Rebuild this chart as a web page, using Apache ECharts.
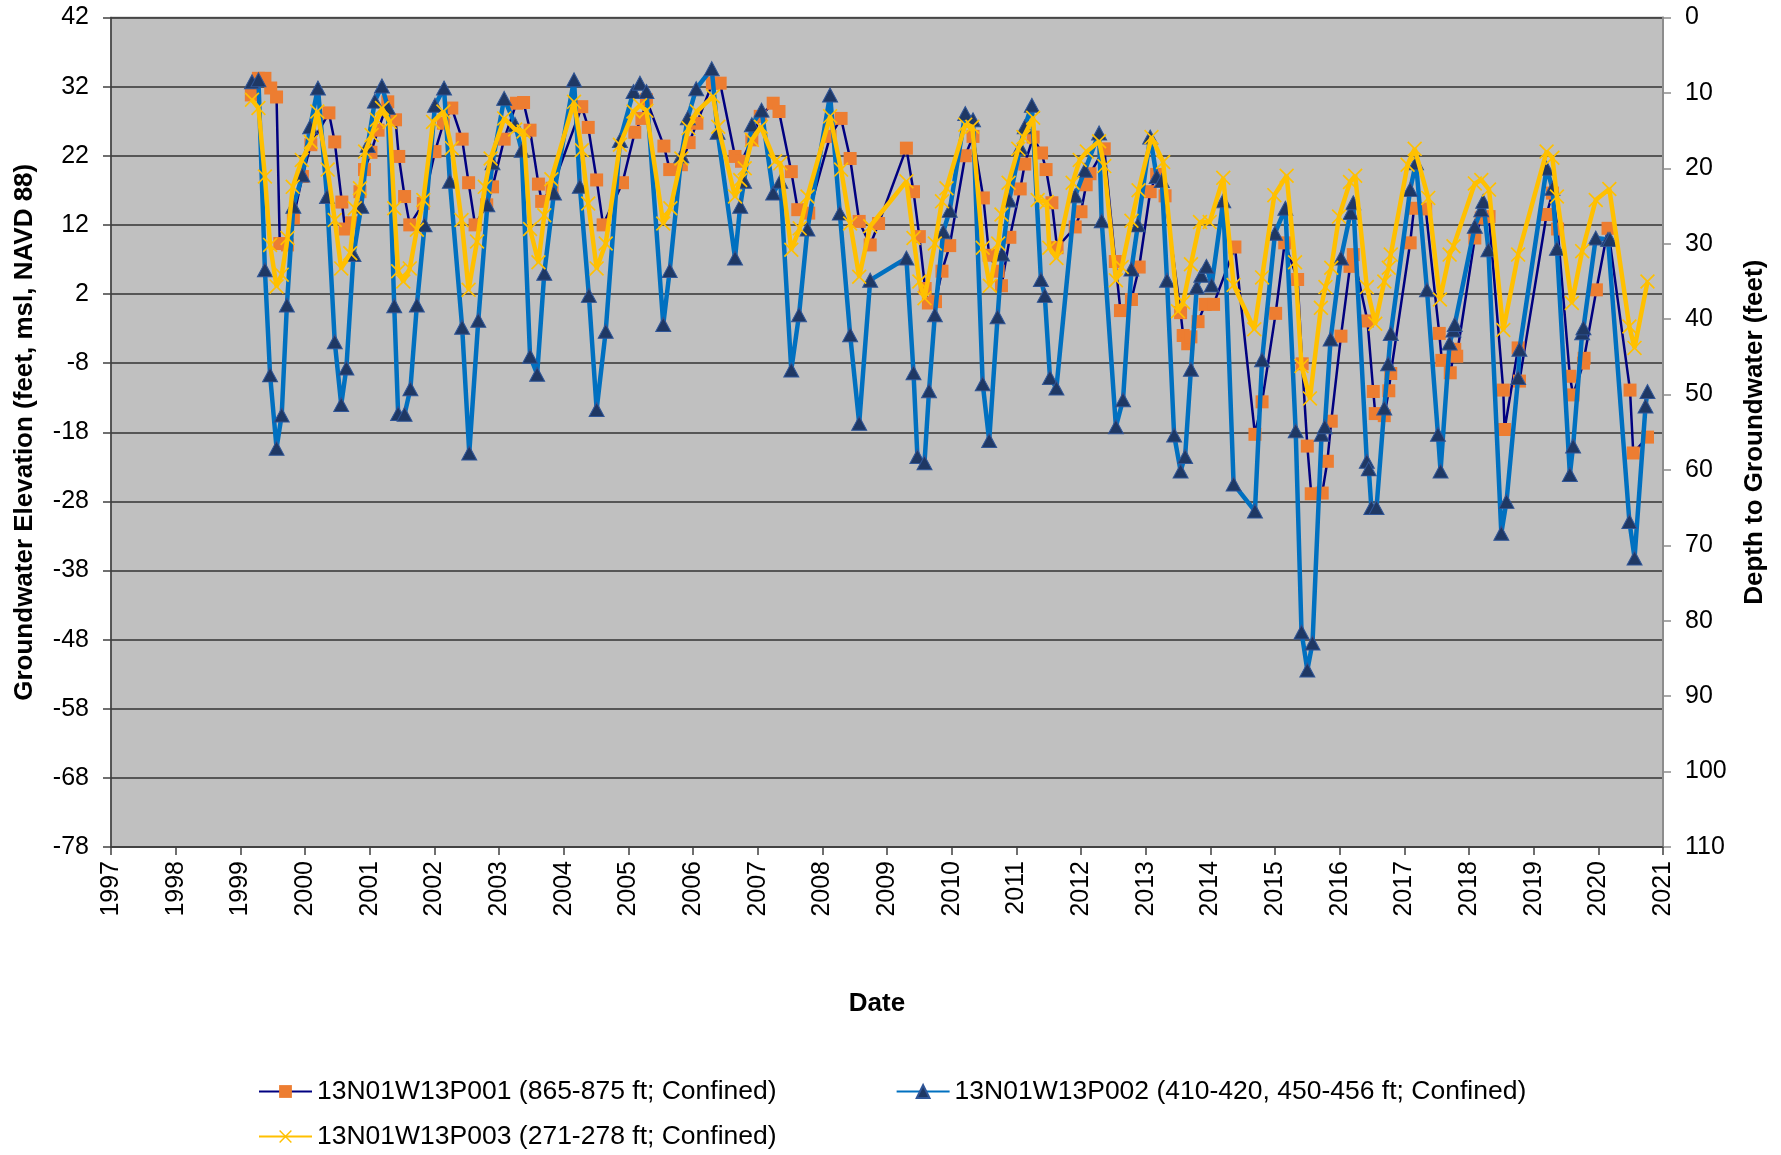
<!DOCTYPE html>
<html>
<head>
<meta charset="utf-8">
<title>13N01W13P001-003 Groundwater Elevation</title>
<script src="https://cdn.jsdelivr.net/npm/echarts@6/dist/echarts.min.js"></script>
<style>
  html, body { margin: 0; padding: 0; background: #ffffff; }
  #chart { width: 1781px; height: 1155px; }
</style>
</head>
<body>
<div id="chart"></div>
<script>
// Well names shown in the legend
const wellNames = [
  '13N01W13P001 (865-875 ft; Confined)',
  '13N01W13P002 (410-420, 450-456 ft; Confined)',
  '13N01W13P003 (271-278 ft; Confined)'
];

// Measurements as [decimal year, groundwater elevation (ft, NAVD 88)]
const p001 = [
  [1999.17, 30.8], [1999.28, 33.2], [1999.38, 33.2], [1999.47, 31.8], [1999.56, 30.5],
  [1999.61, 9.3], [1999.73, 9.1], [1999.82, 13.0], [1999.96, 19.0], [2000.09, 23.6],
  [2000.37, 28.2], [2000.46, 24.0], [2000.57, 15.3], [2000.62, 11.4], [2000.72, 12.3],
  [2000.85, 16.8], [2000.92, 20.0], [2001.02, 22.5], [2001.13, 25.7], [2001.28, 29.8],
  [2001.40, 27.2], [2001.45, 21.9], [2001.54, 16.1], [2001.62, 12.0], [2001.83, 15.1],
  [2002.01, 22.6], [2002.14, 26.7], [2002.27, 28.9], [2002.43, 24.4], [2002.53, 18.1],
  [2002.63, 12.0], [2002.81, 14.9], [2002.90, 17.5], [2003.08, 24.4], [2003.27, 29.6],
  [2003.38, 29.7], [2003.48, 25.7], [2003.61, 17.9], [2003.66, 15.4], [2003.82, 17.3],
  [2004.28, 29.1], [2004.38, 26.1], [2004.51, 18.5], [2004.61, 12.0], [2004.91, 18.1],
  [2005.10, 25.4], [2005.21, 27.4], [2005.28, 30.1], [2005.55, 23.4], [2005.64, 20.0],
  [2005.82, 20.7], [2005.94, 23.9], [2006.06, 26.7], [2006.30, 32.5], [2006.42, 32.5],
  [2006.65, 21.9], [2006.75, 21.2], [2006.91, 24.3], [2007.04, 27.7], [2007.24, 29.6],
  [2007.33, 28.4], [2007.52, 19.7], [2007.62, 14.2], [2007.79, 13.7], [2008.12, 24.8],
  [2008.29, 27.4], [2008.43, 21.6], [2008.57, 12.5], [2008.74, 9.1], [2008.87, 12.2],
  [2009.30, 23.1], [2009.41, 16.8], [2009.50, 10.3], [2009.59, 2.8], [2009.64, 0.7],
  [2009.75, 0.9], [2009.85, 5.3], [2009.97, 9.0], [2010.21, 22.0], [2010.33, 24.8],
  [2010.49, 15.9], [2010.58, 7.6], [2010.72, 5.3], [2010.77, 3.2], [2010.90, 10.2],
  [2011.06, 17.2], [2011.13, 20.8], [2011.26, 24.7], [2011.39, 22.4], [2011.46, 20.0],
  [2011.55, 15.2], [2011.63, 8.7], [2011.91, 11.7], [2012.00, 13.9], [2012.08, 17.8],
  [2012.14, 19.4], [2012.36, 23.0], [2012.53, 6.7], [2012.61, -0.4], [2012.78, 1.2],
  [2012.90, 5.9], [2013.07, 16.8], [2013.17, 19.3], [2013.30, 16.2], [2013.54, -0.7],
  [2013.58, -4.0], [2013.65, -5.2], [2013.70, -4.2], [2013.81, -2.0], [2013.92, 0.5],
  [2014.05, 0.5], [2014.38, 8.8], [2014.69, -18.3], [2014.80, -13.6], [2015.01, -0.8],
  [2015.15, 9.4], [2015.35, 4.1], [2015.42, -8.1], [2015.50, -20.0], [2015.56, -26.9],
  [2015.73, -26.8], [2015.81, -22.2], [2015.87, -16.4], [2016.02, -4.1], [2016.16, 6.0],
  [2016.21, 7.7], [2016.43, -1.9], [2016.52, -12.1], [2016.55, -15.3], [2016.69, -15.6],
  [2016.76, -12.0], [2016.79, -9.5], [2017.09, 9.4], [2017.15, 14.4], [2017.33, 14.3],
  [2017.54, -3.7], [2017.58, -7.6], [2017.71, -9.4], [2017.78, -6.0], [2017.81, -7.0],
  [2018.09, 10.1], [2018.19, 13.0], [2018.31, 13.2], [2018.53, -11.9], [2018.55, -17.6],
  [2018.76, -5.8], [2018.78, -10.6], [2019.20, 13.5], [2019.29, 16.6], [2019.37, 11.4],
  [2019.56, -9.9], [2019.61, -12.6], [2019.77, -8.0], [2019.78, -7.3], [2019.97, 2.6],
  [2020.15, 11.5], [2020.49, -11.9], [2020.54, -21.0], [2020.76, -18.7]
];

const p002 = [
  [1999.18, 32.7], [1999.28, 33.0], [1999.38, 5.5], [1999.46, -9.7], [1999.56, -20.3],
  [1999.64, -15.5], [1999.72, 0.4], [1999.82, 14.7], [1999.96, 19.2], [2000.08, 26.2],
  [2000.20, 31.8], [2000.34, 16.1], [2000.46, -4.9], [2000.56, -14.0], [2000.64, -8.7],
  [2000.75, 7.7], [2000.87, 14.7], [2000.97, 23.5], [2001.08, 29.9], [2001.19, 32.1],
  [2001.28, 29.0], [2001.38, 0.3], [2001.44, -15.3], [2001.54, -15.4], [2001.63, -11.7],
  [2001.73, 0.4], [2001.85, 12.0], [2002.01, 29.3], [2002.15, 31.8], [2002.24, 18.3],
  [2002.43, -2.8], [2002.54, -21.0], [2002.68, -1.8], [2002.82, 14.9], [2002.90, 21.0],
  [2003.08, 30.3], [2003.25, 26.5], [2003.35, 22.8], [2003.48, -7.0], [2003.59, -9.6],
  [2003.70, 5.0], [2003.85, 16.6], [2004.16, 33.0], [2004.25, 17.6], [2004.39, 1.8],
  [2004.51, -14.7], [2004.65, -3.4], [2004.87, 24.2], [2005.08, 31.3], [2005.18, 32.5],
  [2005.28, 31.3], [2005.54, -2.4], [2005.64, 5.4], [2005.82, 22.0], [2005.92, 27.5],
  [2006.05, 31.7], [2006.29, 34.6], [2006.38, 25.4], [2006.65, 7.2], [2006.73, 14.7],
  [2006.79, 18.3], [2006.91, 26.5], [2007.06, 28.6], [2007.24, 16.6], [2007.35, 18.3],
  [2007.52, -9.0], [2007.64, -1.0], [2007.77, 11.4], [2008.12, 30.8], [2008.27, 13.7],
  [2008.43, -3.9], [2008.57, -16.7], [2008.74, 4.0], [2009.30, 7.2], [2009.41, -9.4],
  [2009.47, -21.5], [2009.58, -22.4], [2009.65, -12.0], [2009.74, -1.0], [2009.87, 11.0],
  [2009.97, 14.1], [2010.21, 28.1], [2010.33, 27.2], [2010.48, -11.0], [2010.58, -19.2],
  [2010.71, -1.3], [2010.78, 7.8], [2010.89, 15.6], [2011.06, 23.2], [2011.13, 26.2],
  [2011.24, 29.3], [2011.38, 4.1], [2011.44, 1.8], [2011.52, -10.1], [2011.62, -11.6],
  [2011.91, 16.2], [2012.06, 19.9], [2012.28, 25.3], [2012.32, 12.6], [2012.54, -17.2],
  [2012.65, -13.3], [2012.78, 5.6], [2012.88, 12.0], [2013.07, 24.7], [2013.17, 19.0],
  [2013.25, 18.4], [2013.33, 4.0], [2013.44, -18.4], [2013.54, -23.6], [2013.61, -21.5],
  [2013.70, -8.9], [2013.79, 3.0], [2013.86, 4.7], [2013.94, 6.0], [2014.02, 3.3],
  [2014.20, 15.5], [2014.36, -25.5], [2014.69, -29.4], [2014.80, -7.5], [2015.00, 10.8],
  [2015.16, 14.4], [2015.32, -17.8], [2015.41, -46.9], [2015.50, -52.4], [2015.58, -48.5],
  [2015.72, -18.3], [2015.77, -17.2], [2015.86, -4.5], [2016.02, 7.2], [2016.17, 13.8],
  [2016.21, 15.2], [2016.42, -22.2], [2016.45, -23.3], [2016.49, -28.9], [2016.57, -28.9],
  [2016.69, -14.5], [2016.75, -8.1], [2016.79, -3.7], [2017.09, 17.1], [2017.18, 21.0],
  [2017.35, 2.6], [2017.52, -18.3], [2017.56, -23.6], [2017.70, -5.1], [2017.76, -3.2],
  [2017.78, -2.4], [2018.09, 11.8], [2018.19, 14.2], [2018.22, 15.4], [2018.30, 8.4],
  [2018.50, -32.6], [2018.58, -28.0], [2018.76, -10.1], [2018.78, -6.0], [2019.20, 20.2],
  [2019.29, 17.3], [2019.36, 8.6], [2019.56, -24.1], [2019.61, -20.0], [2019.75, -3.6],
  [2019.77, -2.9], [2019.96, 10.1], [2020.15, 9.9], [2020.18, 9.9], [2020.48, -30.9],
  [2020.56, -36.2], [2020.73, -14.2], [2020.76, -12.1]
];

const p003 = [
  [1999.18, 30.1], [1999.28, 28.9], [1999.38, 19.0], [1999.46, 9.1], [1999.56, 3.1],
  [1999.64, 4.8], [1999.73, 10.1], [1999.81, 17.5], [1999.95, 21.4], [2000.09, 24.0],
  [2000.19, 28.4], [2000.35, 20.0], [2000.46, 12.7], [2000.56, 5.7], [2000.70, 7.9],
  [2000.77, 14.4], [2000.85, 17.3], [2000.93, 22.6], [2001.03, 25.0], [2001.11, 27.2],
  [2001.19, 28.9], [2001.31, 26.9], [2001.38, 14.4], [2001.44, 5.3], [2001.52, 3.8],
  [2001.62, 5.7], [2001.73, 11.3], [2001.83, 15.6], [2001.98, 26.9], [2002.14, 28.4],
  [2002.27, 23.1], [2002.42, 12.7], [2002.53, 2.6], [2002.66, 9.6], [2002.78, 17.5],
  [2002.87, 21.6], [2003.08, 27.4], [2003.25, 25.8], [2003.38, 25.5], [2003.48, 11.4],
  [2003.61, 6.6], [2003.70, 13.4], [2003.81, 18.6], [2004.16, 29.8], [2004.28, 22.8],
  [2004.38, 15.1], [2004.51, 5.7], [2004.65, 9.3], [2004.87, 23.6], [2005.08, 28.4],
  [2005.18, 29.3], [2005.28, 28.5], [2005.54, 12.2], [2005.65, 14.4], [2005.82, 21.6],
  [2005.93, 26.0], [2006.06, 28.4], [2006.31, 30.6], [2006.39, 26.2], [2006.65, 16.1],
  [2006.73, 18.5], [2006.80, 20.2], [2006.91, 24.3], [2007.05, 26.2], [2007.27, 21.2],
  [2007.35, 20.9], [2007.52, 8.4], [2007.65, 11.5], [2007.77, 16.1], [2008.12, 27.7],
  [2008.29, 20.0], [2008.43, 12.2], [2008.57, 4.5], [2008.74, 11.8], [2009.30, 18.3],
  [2009.41, 10.1], [2009.50, 3.8], [2009.58, 1.4], [2009.74, 9.3], [2009.85, 15.4],
  [2009.92, 17.3], [2010.21, 26.5], [2010.32, 26.2], [2010.48, 8.7], [2010.59, 3.2],
  [2010.72, 9.3], [2010.77, 13.5], [2010.88, 18.1], [2011.03, 23.0], [2011.11, 24.7],
  [2011.26, 27.5], [2011.33, 15.6], [2011.47, 15.3], [2011.51, 8.7], [2011.62, 7.2],
  [2011.87, 18.1], [2011.98, 21.4], [2012.09, 22.6], [2012.28, 24.1], [2012.36, 20.5],
  [2012.54, 4.0], [2012.63, 5.9], [2012.78, 12.6], [2012.89, 17.0], [2013.09, 24.7],
  [2013.27, 21.1], [2013.50, -0.5], [2013.58, 0.8], [2013.70, 6.3], [2013.84, 12.4],
  [2013.99, 12.4], [2014.20, 18.8], [2014.36, 3.3], [2014.68, -3.1], [2014.80, 4.4],
  [2014.99, 16.3], [2015.18, 19.1], [2015.31, 6.6], [2015.41, -8.4], [2015.54, -13.1],
  [2015.71, 0.0], [2015.78, 3.0], [2015.87, 5.8], [2015.99, 13.2], [2016.16, 18.2],
  [2016.24, 19.1], [2016.42, 3.0], [2016.55, -2.3], [2016.69, 3.8], [2016.76, 5.8],
  [2016.79, 7.7], [2017.05, 20.7], [2017.16, 23.0], [2017.37, 15.9], [2017.55, 1.2],
  [2017.70, 7.7], [2017.76, 8.9], [2018.09, 18.0], [2018.19, 18.5], [2018.31, 17.1],
  [2018.53, -3.2], [2018.76, 7.7], [2019.20, 22.6], [2019.29, 21.7], [2019.36, 16.1],
  [2019.59, 0.7], [2019.75, 8.2], [2019.96, 15.6], [2020.17, 17.2], [2020.48, -2.7],
  [2020.56, -5.8], [2020.76, 3.8]
];

// Axis ranges
const elevationRange = [-78, 42];
const depthRange = [0, 110];
const yearRange = [1997, 2021];

const FONT = '"Liberation Sans", Arial, sans-serif';
// "x" marker drawn as two crossed bars
const crossSymbol = 'path://M0,0.8 L0.8,0 L10,9.2 L9.2,10 Z M9.2,0 L10,0.8 L0.8,10 L0,9.2 Z';

const legendText = { fontFamily: FONT, fontSize: 26.5, color: '#000000' };

const chart = echarts.init(document.getElementById('chart'), null, { renderer: 'canvas' });

chart.setOption({
  animation: false,
  backgroundColor: '#ffffff',
  textStyle: { fontFamily: FONT },
  grid: {
    left: 111, right: 118, top: 17.5, bottom: 308,
    show: true,
    backgroundColor: '#C0C0C0',
    borderColor: '#808080',
    borderWidth: 1.5,
    containLabel: false,
    outerBoundsMode: 'none'
  },
  legend: [
    {
      data: [wellNames[0], wellNames[1]],
      left: 258, top: 1078,
      padding: 0,
      itemWidth: 53, itemHeight: 16, itemGap: 119,
      textStyle: legendText
    },
    {
      data: [wellNames[2]],
      left: 258, top: 1123,
      padding: 0,
      itemWidth: 53, itemHeight: 16,
      textStyle: legendText
    }
  ],
  xAxis: {
    type: 'value',
    min: yearRange[0], max: yearRange[1], interval: 1,
    name: 'Date',
    nameLocation: 'middle',
    nameGap: 144,
    nameTextStyle: { fontFamily: FONT, fontSize: 26, fontWeight: 'bold', color: '#000', padding: [0, 20, 0, 0] },
    axisLine: { show: true, onZero: false, lineStyle: { color: '#404040', width: 1.5 } },
    axisTick: { show: true, inside: false, length: 8, lineStyle: { color: '#404040', width: 1.5 } },
    axisLabel: {
      rotate: 90, fontSize: 25, color: '#000', margin: 14, fontFamily: FONT,
      formatter: v => String(Math.round(v))
    },
    splitLine: { show: false }
  },
  yAxis: [
    {
      type: 'value',
      position: 'left',
      min: elevationRange[0], max: elevationRange[1], interval: 10,
      name: 'Groundwater Elevation (feet, msl, NAVD 88)',
      nameLocation: 'middle',
      nameGap: 73,
      nameRotate: 90,
      nameTextStyle: { fontFamily: FONT, fontSize: 26, fontWeight: 'bold', color: '#000' },
      axisLine: { show: true, onZero: false, lineStyle: { color: '#404040', width: 1.5 } },
      axisTick: { show: true, inside: false, length: 8, lineStyle: { color: '#404040', width: 1.5 } },
      axisLabel: { fontSize: 25, color: '#000', margin: 22, fontFamily: FONT },
      splitLine: { show: true, lineStyle: { color: '#333333', width: 1.5 } }
    },
    {
      type: 'value',
      position: 'right',
      inverse: true,
      min: depthRange[0], max: depthRange[1], interval: 10,
      name: 'Depth to Groundwater (feet)',
      nameLocation: 'middle',
      nameGap: 79,
      nameRotate: 90,
      nameTextStyle: { fontFamily: FONT, fontSize: 26, fontWeight: 'bold', color: '#000' },
      axisLine: { show: true, onZero: false, lineStyle: { color: '#8C8C8C', width: 2 } },
      axisTick: { show: true, inside: false, length: 8, lineStyle: { color: '#8C8C8C', width: 1.5 } },
      axisLabel: { fontSize: 25, color: '#000', margin: 22, fontFamily: FONT },
      splitLine: { show: false }
    }
  ],
  series: [
    {
      name: wellNames[0],
      type: 'line',
      yAxisIndex: 0,
      data: p001,
      showAllSymbol: true,
      symbol: 'rect',
      symbolSize: 13,
      lineStyle: { color: '#000080', width: 2.5 },
      itemStyle: { color: '#ED7D31' },
      z: 2
    },
    {
      name: wellNames[1],
      type: 'line',
      yAxisIndex: 0,
      data: p002,
      showAllSymbol: true,
      symbol: 'triangle',
      symbolSize: [15, 14],
      lineStyle: { color: '#0070C0', width: 4.5 },
      itemStyle: { color: '#1F3864', borderColor: '#2F5597', borderWidth: 1 },
      z: 3
    },
    {
      name: wellNames[2],
      type: 'line',
      yAxisIndex: 0,
      data: p003,
      showAllSymbol: true,
      symbol: crossSymbol,
      symbolSize: 15,
      lineStyle: { color: '#FFC000', width: 4.5 },
      itemStyle: { color: '#FFC000' },
      z: 4
    }
  ]
});
</script>
</body>
</html>
